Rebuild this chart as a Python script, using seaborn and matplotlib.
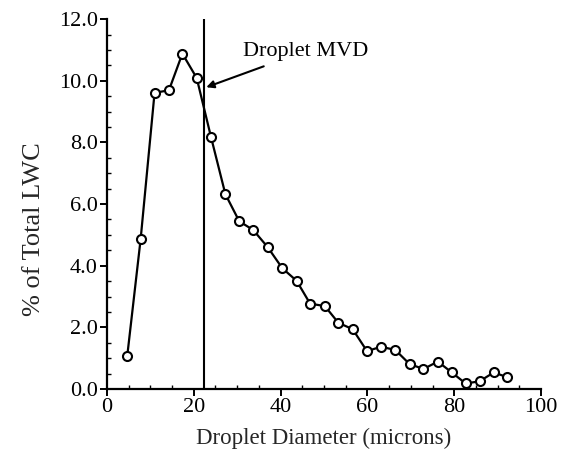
import matplotlib
matplotlib.use("Agg")
import matplotlib.pyplot as plt
import seaborn as sns
import pandas as pd
from matplotlib.ticker import MultipleLocator, FormatStrFormatter

diameter = [4.7, 7.8, 11.0, 14.3, 17.4, 20.7, 24.0, 27.3, 30.5, 33.7, 37.0, 40.4,
            43.7, 46.8, 50.2, 53.3, 56.6, 59.9, 63.1, 66.4, 69.7, 72.9, 76.2,
            79.4, 82.6, 85.8, 89.1, 92.2]
pct_lwc = [1.06, 4.87, 9.61, 9.69, 10.88, 10.09, 8.17, 6.32, 5.44, 5.16, 4.61, 3.92,
           3.51, 2.77, 2.69, 2.15, 1.94, 1.23, 1.37, 1.27, 0.81, 0.65, 0.89,
           0.54, 0.18, 0.25, 0.54, 0.38]
mvd = 22.4
annot_text = "Droplet MVD"

df = pd.DataFrame({"d": diameter, "p": pct_lwc})

sns.set_style("ticks")
plt.rcParams["font.family"] = ["Liberation Serif", "DejaVu Serif"]

fig = plt.figure(figsize=(5.62, 4.55), dpi=100)
ax = fig.add_axes([0.190, 0.145, 0.773, 0.813])

sns.lineplot(data=df, x="d", y="p", ax=ax, color="black", linewidth=1.6,
             marker="o", markersize=6.5, markerfacecolor="white",
             markeredgecolor="black", markeredgewidth=1.5)
ax.plot([mvd, mvd], [0, 12], color="black", linewidth=1.5)

ax.annotate(annot_text, xy=(22.9, 9.79), xytext=(31.3, 10.96),
            fontsize=16, va="center", ha="left", color="black",
            arrowprops=dict(arrowstyle="-|>", color="black", lw=1.5,
                            shrinkA=5, shrinkB=0, mutation_scale=11))

ax.set_xlim(0, 100)
ax.set_ylim(0, 12)
ax.xaxis.set_major_locator(MultipleLocator(20))
ax.xaxis.set_minor_locator(MultipleLocator(5))
ax.yaxis.set_major_locator(MultipleLocator(2))
ax.yaxis.set_minor_locator(MultipleLocator(0.5))
ax.yaxis.set_major_formatter(FormatStrFormatter("%.1f"))

for s in ["top", "right"]:
    ax.spines[s].set_visible(False)
for s in ["left", "bottom"]:
    ax.spines[s].set_linewidth(1.6)
    ax.spines[s].set_color("black")

ax.tick_params(which="major", direction="out", length=5, width=1.4,
               labelsize=16, colors="black", pad=1.5)
ax.tick_params(which="minor", direction="in", length=3, width=1.0, colors="black")

ax.set_xlabel("Droplet Diameter (microns)", fontsize=16.5, labelpad=8)
ax.set_ylabel("% of Total LWC", fontsize=19)
ax.yaxis.set_label_coords(-0.143, 0.432)

fig.savefig("out.png", dpi=100)
